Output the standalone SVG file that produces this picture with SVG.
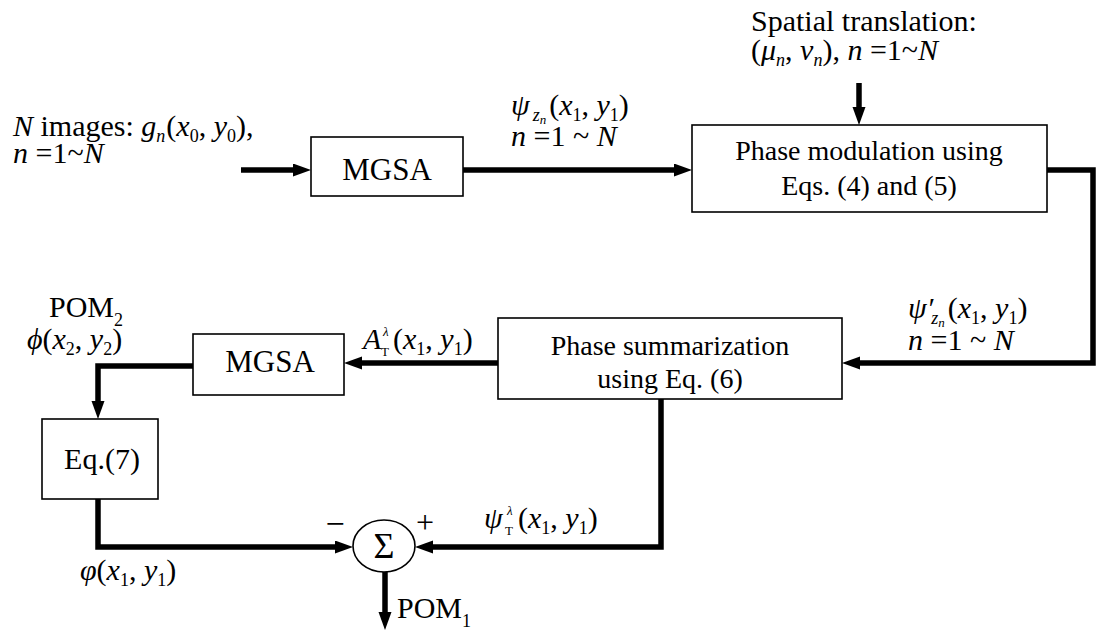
<svg xmlns="http://www.w3.org/2000/svg" width="1096" height="632" viewBox="0 0 1096 632">
<style>
text{font-family:'Liberation Serif','DejaVu Serif','Times New Roman',Times,serif;fill:#000}
.t{font-size:30px}
.bx{font-size:28px;text-anchor:middle}
.i{font-style:italic}
.s{font-size:18px}
.ss{font-size:13px}
.box{fill:#fff;stroke:#000;stroke-width:1.6}
.wire{fill:none;stroke:#000;stroke-width:5.5;stroke-linejoin:miter;marker-end:url(#ah)}
</style>
<defs>
<marker id="ah" markerUnits="userSpaceOnUse" markerWidth="20" markerHeight="14" refX="8" refY="6.5" orient="auto">
<path d="M0,0 L18,6.5 L0,13 Z" fill="#000"/>
</marker>
</defs>
<rect width="1096" height="632" fill="#fff"/>

<g id="connectors">
<path class="wire" d="M241,170 H301"/>
<path class="wire" d="M463,170 H682"/>
<path class="wire" d="M859,83 V115"/>
<path class="wire" d="M1047,170 H1093 V363 H852"/>
<path class="wire" d="M498,363 H354"/>
<path class="wire" d="M193,366 H98 V409"/>
<path class="wire" d="M98,499 V547 H343"/>
<path class="wire" d="M661,399 V547 H425"/>
<path class="wire" d="M385,572 V620"/>
</g>

<g id="input-label">
<text x="13" y="136" class="t"><tspan class="i">N</tspan> images: <tspan class="i">g</tspan><tspan class="s i" dy="6">n</tspan><tspan dx="1" dy="-6">(</tspan><tspan class="i">x</tspan><tspan class="s" dy="6">0</tspan><tspan dy="-6">, </tspan><tspan class="i">y</tspan><tspan class="s" dy="6">0</tspan><tspan dy="-6">),</tspan></text>
<text x="13" y="163" class="t"><tspan class="i">n</tspan> =1~<tspan class="i">N</tspan></text>
</g>

<g id="mgsa1">
<rect class="box" x="311" y="137" width="152" height="59"/>
<text x="387" y="180" class="t" style="text-anchor:middle;font-size:31px">MGSA</text>
</g>

<g id="label-psi">
<text x="511" y="115" class="t"><tspan class="i">ψ</tspan><tspan class="i s" dx="3" dy="6">z</tspan><tspan class="i ss" dy="3">n</tspan><tspan dx="3" dy="-9">(</tspan><tspan class="i">x</tspan><tspan class="s" dy="6">1</tspan><tspan dy="-6">, </tspan><tspan class="i">y</tspan><tspan class="s" dy="6">1</tspan><tspan dy="-6">)</tspan></text>
<text x="511" y="146" class="t"><tspan class="i">n</tspan> =1 ~ <tspan class="i">N</tspan></text>
</g>

<g id="spatial-label">
<text x="751" y="31" class="t">Spatial translation:</text>
<text x="751" y="60" class="t">(<tspan class="i">μ</tspan><tspan class="s i" dy="6">n</tspan><tspan dy="-6">, </tspan><tspan class="i">ν</tspan><tspan class="s i" dy="6">n</tspan><tspan dy="-6">),  </tspan><tspan class="i">n</tspan> =1~<tspan class="i">N</tspan></text>
</g>

<g id="phase-modulation">
<rect class="box" x="692" y="125" width="355" height="87"/>
<text x="869" y="160" class="bx">Phase modulation using</text>
<text x="869" y="195" class="bx">Eqs. (4) and (5)</text>
</g>

<g id="label-psi-prime">
<text x="908" y="318" class="t"><tspan class="i">ψ′</tspan><tspan class="i s" dx="-2" dy="6">z</tspan><tspan class="i ss" dy="3">n</tspan><tspan dx="3" dy="-9">(</tspan><tspan class="i">x</tspan><tspan class="s" dy="6">1</tspan><tspan dy="-6">, </tspan><tspan class="i">y</tspan><tspan class="s" dy="6">1</tspan><tspan dy="-6">)</tspan></text>
<text x="908" y="350" class="t"><tspan class="i">n</tspan> =1 ~ <tspan class="i">N</tspan></text>
</g>

<g id="phase-summarization">
<rect class="box" x="498" y="318" width="344" height="81"/>
<text x="670" y="355" class="bx">Phase summarization</text>
<text x="670" y="388" class="bx">using Eq. (6)</text>
</g>

<g id="label-A">
<text y="349" class="t"><tspan x="363" class="i">A</tspan><tspan x="383" class="ss i" dy="-13">λ</tspan><tspan x="381" class="ss" dy="20">T</tspan><tspan x="393" dy="-7">(</tspan><tspan class="i">x</tspan><tspan class="s" dy="6">1</tspan><tspan dy="-6">, </tspan><tspan class="i">y</tspan><tspan class="s" dy="6">1</tspan><tspan dy="-6">)</tspan></text>
</g>

<g id="mgsa2">
<rect class="box" x="193" y="334" width="151" height="61"/>
<text x="270" y="372" class="t" style="text-anchor:middle;font-size:31px">MGSA</text>
</g>

<g id="label-pom2">
<text x="49" y="317" class="t">POM<tspan class="s" dy="9">2</tspan></text>
<text x="27" y="349" class="t"><tspan class="i">ϕ</tspan>(<tspan class="i">x</tspan><tspan class="s" dy="6">2</tspan><tspan dy="-6">, </tspan><tspan class="i">y</tspan><tspan class="s" dy="6">2</tspan><tspan dy="-6">)</tspan></text>
</g>

<g id="eq7">
<rect class="box" x="42" y="419" width="116" height="80"/>
<text x="102" y="469" class="t" style="text-anchor:middle">Eq.(7)</text>
</g>

<g id="sum">
<ellipse cx="384" cy="546" rx="31" ry="26" fill="#fff" stroke="#000" stroke-width="1.6"/>
<text x="384" y="558" class="t" style="text-anchor:middle;font-size:36px">Σ</text>
<text x="335" y="535" class="t" style="text-anchor:middle;font-size:34px">−</text>
<text x="425" y="533" class="t" style="text-anchor:middle;font-size:32px">+</text>
</g>

<g id="label-psiT">
<text y="528" class="t"><tspan x="484" class="i">ψ</tspan><tspan x="507" class="ss i" dy="-13">λ</tspan><tspan x="505" class="ss" dy="20">T</tspan><tspan x="518" dy="-7">(</tspan><tspan class="i">x</tspan><tspan class="s" dy="6">1</tspan><tspan dy="-6">, </tspan><tspan class="i">y</tspan><tspan class="s" dy="6">1</tspan><tspan dy="-6">)</tspan></text>
</g>

<g id="label-varphi">
<text x="80" y="580" class="t"><tspan class="i">φ</tspan>(<tspan class="i">x</tspan><tspan class="s" dy="6">1</tspan><tspan dy="-6">, </tspan><tspan class="i">y</tspan><tspan class="s" dy="6">1</tspan><tspan dy="-6">)</tspan></text>
</g>

<g id="label-pom1">
<text x="397" y="618" class="t">POM<tspan class="s" dy="9">1</tspan></text>
</g>
</svg>
